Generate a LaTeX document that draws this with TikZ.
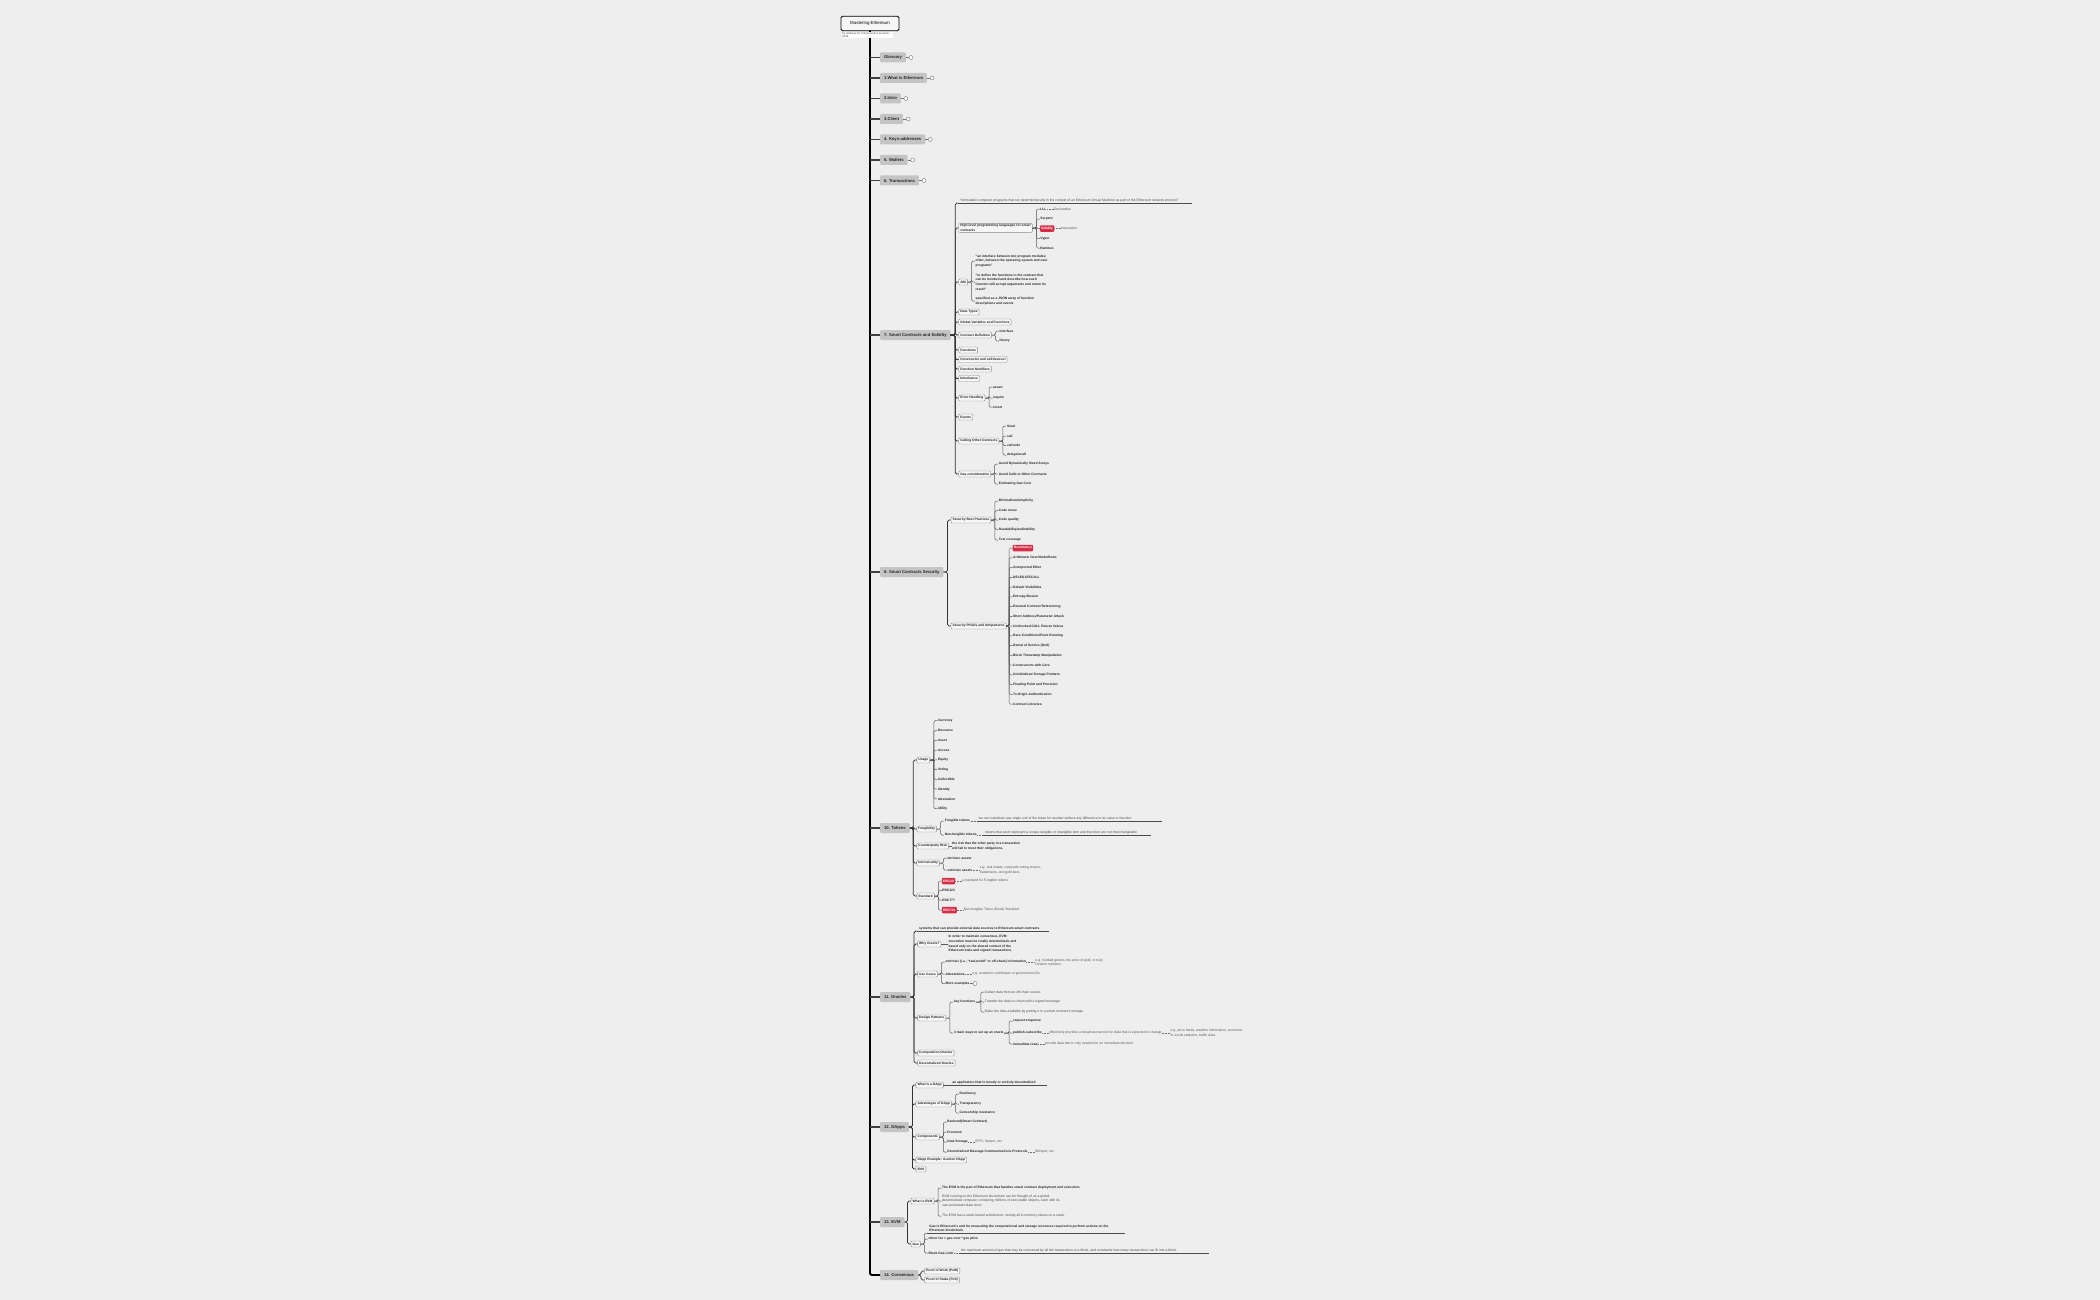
\documentclass[tikz,border=0pt]{standalone}
\usepackage{fontspec}
\setmainfont{Liberation Sans}
\definecolor{bg}{HTML}{EEEEEE}
\definecolor{catc}{HTML}{C4C4C4}
\definecolor{redc}{HTML}{D62E46}
\newcommand\mmspine[2][4]{\coordinate (#2-s) at ([xshift=#1pt]#2.east);}
\newcommand\mmA[5][sub]{\node[#1,xshift=3.5pt] (#2) at (#3-s |- 0,#4) {#5};\draw[br] (#3.east) -- (#3-s) |- (#2.west);}
\newcommand\mmB[5][leaf]{\node[#1,xshift=3.5pt] (#2) at (#3-s |- 0,#4) {#5};\draw[sbr] (#3.east) -- (#3-s) |- (#2.west);}
\newcommand\mmnote[4][7]{\node[note,xshift=#1pt] (#2) at (#3.east) {#4};\draw[dsh] (#3.east) -- (#2.west);}
\newcommand\mmulnote[5][6]{\node[uln,xshift=#1pt] (#2) at (#3.east) {#4};\draw[dsh] (#3.east) -- (#2.south west);\draw[ull] (#2.south west) -- ([xshift=#5pt]#2.south east);}
\newcommand\mmfold[2]{\node[fold,xshift=5pt] (#1) at (#2.east) {};\draw[line width=0.4pt,black!55] (#2.east) -- (#1.west);}
\begin{document}
\begin{tikzpicture}[x=1pt,y=-1pt,
  every node/.style={inner sep=0pt, outer sep=0pt},
  root/.style={draw=black, line width=0.9pt, rounded corners=1.5pt, fill=white!55!bg, font=\fontsize{4.4}{5}\selectfont, minimum width=58pt, minimum height=14.5pt},
  subt/.style={fill=white, font=\fontsize{2.8}{3.6}\selectfont, text=black!70, align=left, anchor=north west, inner xsep=0.8pt, inner ysep=0.4pt},
  cat/.style={fill=catc, rounded corners=1.2pt, font=\fontsize{4.2}{5}\selectfont\bfseries, text=black!85, minimum height=10pt, inner xsep=4pt, anchor=west},
  sub/.style={draw=black!45, fill=white!50!bg, line width=0.4pt, rounded corners=1pt, font=\fontsize{3.3}{4.5}\selectfont\bfseries, text=black!85, minimum height=6pt, inner xsep=1.6pt, inner ysep=0.9pt, anchor=west, align=left},
  leaf/.style={font=\fontsize{3.3}{4.6}\selectfont\bfseries, text=black!85, anchor=west, align=left, inner xsep=0.6pt, inner ysep=0.5pt},
  lite/.style={leaf, font=\fontsize{3.4}{4.6}\selectfont, text=black!70},
  evm/.style={leaf, font=\fontsize{3.4}{4.5}\selectfont, text=black!70},
  redt/.style={fill=redc, text=white, font=\fontsize{3.3}{4}\selectfont\bfseries, rounded corners=1pt, minimum height=6.5pt, inner xsep=1.3pt, anchor=west},
  note/.style={font=\fontsize{3.4}{4.3}\selectfont, text=black!65, anchor=west, align=left},
  uln/.style={font=\fontsize{3.4}{4.4}\selectfont, text=black!70, anchor=south west, align=left, inner xsep=2pt, inner ysep=1.2pt},
  ulb/.style={uln, font=\fontsize{3.3}{4.6}\selectfont\bfseries, text=black!85},
  fold/.style={circle, draw=black!55, fill=white, line width=0.4pt, minimum size=4pt},
  trunk/.style={line width=1.9pt, black, rounded corners=2pt},
  catln/.style={line width=1.1pt, black!75},
  br/.style={line width=0.8pt, black!80, rounded corners=1.6pt},
  sbr/.style={line width=0.5pt, black!65, rounded corners=1.3pt},
  dsh/.style={line width=0.4pt, black!55, dash pattern=on 0.9pt off 0.6pt},
  ull/.style={line width=0.6pt, black!70},
]
\fill[bg] (0,0) rectangle (2100,1300);
\useasboundingbox (0,0) rectangle (2100,1300);

% root and categories
\node[root] (root) at (870,23.5) {Mastering Ethereum};
\node[cat] (g0) at (880,57.5) {Glossary};
\node[cat] (g1) at (880,78) {1.What is Ethereum};
\node[cat] (g2) at (880,98.5) {2.Intro};
\node[cat] (g3) at (880,119) {3.Client};
\node[cat] (g4) at (880,139.5) {4. Keys-addresses};
\node[cat] (g5) at (880,160) {5. Wallets};
\node[cat] (g6) at (880,180.5) {6. Transactions};
\node[cat] (c7) at (880,335) {7. Smart Contracts and Solidity};
\node[cat] (c8) at (880,572) {8. Smart Contracts Security};
\node[cat] (c10) at (880,828) {10. Tokens};
\node[cat] (c11) at (880,997) {11. Oracles};
\node[cat] (c12) at (880,1127) {12. DApps};
\node[cat] (c13) at (880,1222) {13. EVM};
\node[cat] (c14) at (880,1275) {14. Consensus};
\draw[trunk] (root.south) |- (c14.west);
\foreach \c in {g0,g1,g2,g3,g4,g5,g6,c7,c8,c10,c11,c12,c13}
  \draw[catln] (root.south |- \c.west) -- (\c.west);
\mmfold{g0f}{g0}
\mmfold{g1f}{g1}
\mmfold{g2f}{g2}
\mmfold{g3f}{g3}
\mmfold{g4f}{g4}
\mmfold{g5f}{g5}
\mmfold{g6f}{g6}

% ---------- 7 ----------
\mmspine[4.5]{c7}
\node[uln,xshift=3pt] (imm) at (c7-s |- 0,203) {“Immutable computer programs that run deterministically in the context of an Ethereum Virtual Machine as part of the Ethereum network protocol”};
\draw[br] (c7.east) -- (c7-s) |- (imm.south west);
\draw[ull] (imm.south west) -- ([xshift=12pt]imm.south east);
\mmA{hl}{c7}{228}{High-level programming languages for smart\\contracts}
\mmspine{hl}
\mmB{lll}{hl}{209}{LLL}
\mmnote{lllN}{lll}{Declarative}
\mmB{serp}{hl}{219}{Serpent}
\mmB[redt]{sol}{hl}{228.5}{Solidity}
\mmnote{solN}{sol}{Imperative}
\mmB{vyp}{hl}{238.5}{Vyper}
\mmB{bam}{hl}{248}{Bamboo}
\mmA{abi}{c7}{282}{ABI}
\mmspine{abi}
\mmB{abiA}{abi}{261}{“an interface between two program modules;\\often, between the operating system and user\\programs”}
\mmB{abiB}{abi}{282}{“to define the functions in the contract that\\can be invoked and describe how each\\function will accept arguments and return its\\result”}
\mmB{abiC}{abi}{301}{specified as a JSON array of function\\descriptions and events}
\mmA{dt}{c7}{312}{Data Types}
\mmA{gv}{c7}{322}{Global Variables and Functions}
\mmA{cd}{c7}{335}{Contract Definition}
\mmspine{cd}
\mmB{cdA}{cd}{331}{Interface}
\mmB{cdB}{cd}{341}{library}
\mmA{fn}{c7}{350}{Functions}
\mmA{cs}{c7}{359.5}{Constructor and selfdestruct}
\mmA{fm}{c7}{369}{Function Modifiers}
\mmA{inh}{c7}{378.5}{Inheritance}
\mmA{eh}{c7}{398}{Error Handling}
\mmspine{eh}
\mmB{ehA}{eh}{387}{assert}
\mmB{ehB}{eh}{398}{require}
\mmB{ehC}{eh}{407}{revert}
\mmA{ev}{c7}{417}{Events}
\mmA{coc}{c7}{441}{Calling Other Contracts}
\mmspine{coc}
\mmB{cocA}{coc}{426}{Send}
\mmB{cocB}{coc}{436}{call}
\mmB{cocC}{coc}{445.5}{callcode}
\mmB{cocD}{coc}{455}{delegatecall}
\mmA{gc}{c7}{474}{Gas consideration}
\mmspine{gc}
\mmB{gcA}{gc}{464}{Avoid Dynamically Sized Arrays}
\mmB{gcB}{gc}{474}{Avoid Calls to Other Contracts}
\mmB{gcC}{gc}{484}{Estimating Gas Cost}

% ---------- 8 ----------
\mmspine{c8}
\mmA{sbp}{c8}{520}{Security Best Practices}
\mmspine{sbp}
\mmB{sbpA}{sbp}{501}{Minimalism/simplicity}
\mmB{sbpB}{sbp}{510.5}{Code reuse}
\mmB{sbpC}{sbp}{520}{Code quality}
\mmB{sbpD}{sbp}{529.5}{Readability/auditability}
\mmB{sbpE}{sbp}{540}{Test coverage}
\mmA{spa}{c8}{626}{Security Pitfalls and Antipatterns}
\mmspine[3]{spa}
\mmB[redt]{p0}{spa}{548}{Reentrancy}
\mmB{p1}{spa}{557.75}{Arithmetic Over/Underflows}
\mmB{p2}{spa}{567.5}{Unexpected Ether}
\mmB{p3}{spa}{577.25}{DELEGATECALL}
\mmB{p4}{spa}{587}{Default Visibilities}
\mmB{p5}{spa}{596.75}{Entropy Illusion}
\mmB{p6}{spa}{606.5}{External Contract Referencing}
\mmB{p7}{spa}{616.25}{Short Address/Parameter Attack}
\mmB{p8}{spa}{626}{Unchecked CALL Return Values}
\mmB{p9}{spa}{635.75}{Race Conditions/Front Running}
\mmB{p10}{spa}{645.5}{Denial of Service (DoS)}
\mmB{p11}{spa}{655.25}{Block Timestamp Manipulation}
\mmB{p12}{spa}{665}{Constructors with Care}
\mmB{p13}{spa}{674.75}{Uninitialized Storage Pointers}
\mmB{p14}{spa}{684.5}{Floating Point and Precision}
\mmB{p15}{spa}{694.25}{Tx.Origin Authentication}
\mmB{p16}{spa}{704}{Contract Libraries}

% ---------- 10 ----------
\mmspine[3.5]{c10}
\mmA{use}{c10}{760}{Usage}
\mmspine{use}
\mmB{u0}{use}{720.7}{Currency}
\mmB{u1}{use}{730.5}{Resource}
\mmB{u2}{use}{740.3}{Asset}
\mmB{u3}{use}{750}{Access}
\mmB{u4}{use}{759.8}{Equity}
\mmB{u5}{use}{769.6}{Voting}
\mmB{u6}{use}{779.4}{Collectible}
\mmB{u7}{use}{789.2}{Identity}
\mmB{u8}{use}{798.9}{Attestation}
\mmB{u9}{use}{808.7}{Utility}
\mmA{fung}{c10}{829}{Fungibility}
\mmspine{fung}
\mmB{ft}{fung}{821}{Fungible tokens}
\mmulnote{ftN}{ft}{we can substitute any single unit of the token for another without any difference in its value or function}{28}
\mmB{nft}{fung}{835}{Non-fungible tokens}
\mmulnote{nftN}{nft}{tokens that each represent a unique tangible or intangible item and therefore are not interchangeable}{12}
\mmA{cr}{c10}{846}{Counterparty Risk}
\node[leaf,xshift=3pt] (crT) at (cr.east) {the risk that the other party in a transaction\\will fail to meet their obligations.};
\draw[sbr] (cr.east) -- (crT.west);
\mmA{intr}{c10}{863}{Intrinsicality}
\mmspine{intr}
\mmB{intrA}{intr}{858}{intrinsic assets}
\mmB{intrB}{intr}{870}{extrinsic assets}
\mmnote{intrN}{intrB}{e.g. real estate, corporate voting shares,\\trademarks, and gold bars.}
\mmA{std}{c10}{896}{Standard}
\mmspine{std}
\mmB[redt]{erc20}{std}{881}{ERC20}
\mmnote{erc20N}{erc20}{a standard for Fungible tokens}
\mmB{erc223}{std}{890.5}{ERC223}
\mmB{erc777}{std}{900}{ERC777}
\mmB[redt]{erc721}{std}{910}{ERC721}
\mmnote{erc721N}{erc721}{Non-fungible Token (Deed) Standard}

% ---------- 11 ----------
\mmspine[3.5]{c11}
\node[ulb,xshift=3pt] (sys) at (c11-s |- 0,931) {systems that can provide external data sources to Ethereum smart contracts};
\draw[br] (c11.east) -- (c11-s) |- (sys.south west);
\draw[ull] (sys.south west) -- ([xshift=8pt]sys.south east);
\mmA{why}{c11}{944}{Why Oracle?}
\node[leaf,xshift=7pt] (whyT) at (why.east) {In order to maintain consensus, EVM\\execution must be totally deterministic and\\based only on the shared context of the\\Ethereum state and signed transactions.};
\draw[sbr] (why.east) -- (whyT.west);
\mmA{uc}{c11}{974}{Use Cases}
\mmspine{uc}
\mmB{ucA}{uc}{962}{extrinsic (i.e., “real-world” or off-chain) information}
\mmnote[9]{ucAN}{ucA}{e.g. football games, the price of gold, or truly\\random numbers}
\mmB{ucB}{uc}{974}{Attestations}
\mmnote{ucBN}{ucB}{e.g. academic certificates or government IDs}
\mmB{ucC}{uc}{983.5}{More examples}
\mmfold{ucCf}{ucC}
\mmA{dp}{c11}{1018}{Design Patterns}
\mmspine{dp}
\mmB{kf}{dp}{1002}{key functions}
\mmspine[5]{kf}
\mmB[lite]{kfA}{kf}{992}{Collect data from an off-chain source.}
\mmB[lite]{kfB}{kf}{1002}{Transfer the data on-chain with a signed message.}
\mmB[lite]{kfC}{kf}{1012}{Make the data available by putting it in a smart contract's storage.}
\mmB{tmw}{dp}{1033}{3 main ways to set up an oracle}
\mmspine[5]{tmw}
\mmB{tmA}{tmw}{1021}{request-response}
\mmB{tmB}{tmw}{1033}{publish-subscribe}
\mmnote{tmBN}{tmB}{effectively provides a broadcast service for data that is expected to change}
\mmnote[9]{tmBN2}{tmBN}{e.g. price feeds, weather information, economic\\or social statistics, traffic data.}
\mmB{tmC}{tmw}{1044}{immediate-read}
\mmnote{tmCN}{tmC}{provide data that is only needed for an immediate decision}
\mmA{co}{c11}{1053}{Computation Oracles}
\mmA{dco}{c11}{1063}{Decentralized Oracles}

% ---------- 12 ----------
\mmspine[3.5]{c12}
\mmA{wid}{c12}{1085}{What is a DApp}
\node[ulb,xshift=2pt,inner xsep=7pt] (widU) at (wid.east) {an application that is mostly or entirely decentralized};
\draw[sbr] (wid.east) -- (widU.south west);
\draw[ull] (widU.south west) -- ([xshift=4pt]widU.south east);
\mmA{adv}{c12}{1104}{Advantages of DApp}
\mmspine{adv}
\mmB{advA}{adv}{1094}{Resiliency}
\mmB{advB}{adv}{1104}{Transparency}
\mmB{advC}{adv}{1113}{Censorship resistance}
\mmA{comp}{c12}{1137}{Components}
\mmspine{comp}
\mmB{cmA}{comp}{1122}{Backend(Smart Contract)}
\mmB{cmB}{comp}{1132}{Frontend}
\mmB{cmC}{comp}{1142}{Data Storage}
\mmnote{cmCN}{cmC}{IPFS, Swarm, etc.}
\mmB{cmD}{comp}{1152}{Decentralized Message Communications Protocols}
\mmnote{cmDN}{cmD}{Whisper, etc.}
\mmA{dex}{c12}{1160}{DApp Example: Auction DApp}
\mmA{ens}{c12}{1169}{ENS}

% ---------- 13 ----------
\mmspine[3]{c13}
\mmA{wevm}{c13}{1201}{What is EVM}
\mmspine{wevm}
\mmB{eA}{wevm}{1188}{The EVM is the part of Ethereum that handles smart contract deployment and execution.}
\mmB[evm]{eB}{wevm}{1201}{EVM running on the Ethereum blockchain can be thought of as a global\\decentralized computer containing millions of executable objects, each with its\\own permanent data store.}
\mmB[evm]{eC}{wevm}{1216}{The EVM has a stack-based architecture, storing all in-memory values on a stack.}
\mmA{gas}{c13}{1244}{Gas}
\mmspine{gas}
\node[ulb,xshift=3pt] (gdef) at (gas-s |- 0,1233) {Gas is Ethereum's unit for measuring the computational and storage resources required to perform actions on the\\Ethereum blockchain.};
\draw[sbr] (gas.east) -- (gas-s) |- (gdef.south west);
\draw[ull] (gdef.south west) -- ([xshift=15pt]gdef.south east);
\mmB{mf}{gas}{1239}{miner fee = gas cost * gas price}
\mmB{bgl}{gas}{1253}{Block Gas Limit}
\mmulnote[5]{bglN}{bgl}{the maximum amount of gas that may be consumed by all the transactions in a block, and constrains how many transactions can fit into a block.}{30}

% ---------- 14 ----------
\mmspine[3]{c14}
\mmA{pow}{c14}{1271}{Proof of Work (PoW)}
\mmA{pos}{c14}{1280}{Proof of Stake (PoS)}

\node[subt] (by) at (841.5,31.8) {by Andreas M. Antonopoulos \& Gavin ...\\2018};
\end{tikzpicture}
\end{document}
